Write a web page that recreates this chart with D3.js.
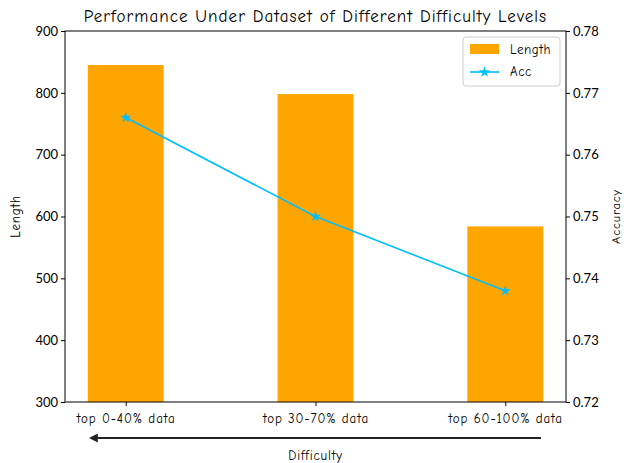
<!DOCTYPE html>
<html><head><meta charset="utf-8">
<script src="https://cdn.jsdelivr.net/npm/d3@7"></script>
<style>body{margin:0;background:#fff}svg{display:block}</style>
</head><body><div id="chart"></div>
<script>
const categories = ["top 0-40% data", "top 30-70% data", "top 60-100% data"];
const lengthValues = [845, 798, 584];
const accValues = [0.766, 0.750, 0.738];
const lengthTicks = [300, 400, 500, 600, 700, 800, 900];
const accTicks = [0.72, 0.73, 0.74, 0.75, 0.76, 0.77, 0.78];

const W = 624, H = 463;
const m = {left: 65, right: 58, top: 31, bottom: 61};
const iw = W - m.left - m.right, ih = H - m.top - m.bottom;
const comic = "'Comic Sans MS','Comic Neue','Lato',sans-serif";
const tickFont = "'Lato','Inter',sans-serif";

const svg = d3.select("#chart").append("svg").attr("width", W).attr("height", H);
const g = svg.append("g").attr("transform", `translate(${m.left},${m.top})`);

const x = d3.scaleLinear().domain([-0.32, 2.32]).range([0, iw]);
const yL = d3.scaleLinear().domain([300, 900]).range([ih, 0]);
const yA = d3.scaleLinear().domain([0.72, 0.78]).range([ih, 0]);
const bw = 0.4;

g.selectAll("rect.bar").data(lengthValues).join("rect").attr("class", "bar")
  .attr("x", (d, i) => x(i - bw / 2)).attr("width", x(bw) - x(0))
  .attr("y", d => yL(d)).attr("height", d => ih - yL(d)).attr("fill", "#FFA500");

const line = d3.line().x((d, i) => x(i)).y(d => yA(d));
g.append("path").datum(accValues).attr("d", line).attr("fill", "none")
  .attr("stroke", "#00BFFF").attr("stroke-width", 1.6);
const star = d3.symbol().type(d3.symbolStar).size(38);
g.selectAll("path.pt").data(accValues).join("path").attr("class", "pt")
  .attr("d", star).attr("transform", (d, i) => `translate(${x(i)},${yA(d)})`)
  .attr("fill", "#00BFFF");

// axes
const ax = g.append("g").attr("transform", `translate(0,${ih})`)
  .call(d3.axisBottom(x).tickValues([0, 1, 2]).tickFormat(i => categories[i]).tickSize(4).tickSizeOuter(0));
ax.selectAll("text").attr("font-family", comic).attr("font-size", 13).attr("letter-spacing", 0.9)
  .attr("fill", "#000").attr("dy", "1.05em");
const al = g.append("g").call(d3.axisLeft(yL).tickValues(lengthTicks).tickSize(4).tickSizeOuter(0));
al.selectAll("text").attr("font-family", tickFont).attr("font-size", 13).attr("fill", "#000");
const ar = g.append("g").attr("transform", `translate(${iw},0)`)
  .call(d3.axisRight(yA).tickValues(accTicks).tickFormat(d3.format(".2f")).tickSize(4).tickSizeOuter(0));
ar.selectAll("text").attr("font-family", tickFont).attr("font-size", 13).attr("fill", "#000");
g.selectAll(".domain").remove();
g.selectAll(".tick line").attr("stroke", "#000");
g.append("rect").attr("width", iw).attr("height", ih).attr("fill", "none").attr("stroke", "#000").attr("stroke-width", 1);

// title and labels
svg.append("text").attr("x", m.left + iw / 2).attr("y", 22).attr("text-anchor", "middle")
  .attr("font-family", comic).attr("font-size", 17).attr("letter-spacing", 1.05)
  .text("Performance Under Dataset of Different Difficulty Levels");
svg.append("text").attr("transform", `translate(20,${m.top + ih / 2}) rotate(-90)`).attr("text-anchor", "middle")
  .attr("font-family", comic).attr("font-size", 13).attr("letter-spacing", 0.8).text("Length");
svg.append("text").attr("transform", `translate(620,${m.top + ih / 2}) rotate(-90)`).attr("text-anchor", "middle")
  .attr("font-family", comic).attr("font-size", 12.5).attr("letter-spacing", 0.8).text("Accuracy");
svg.append("text").attr("x", m.left + iw / 2).attr("y", 460).attr("text-anchor", "middle")
  .attr("font-family", comic).attr("font-size", 13).attr("letter-spacing", 0.8).text("Difficulty");

// arrow
svg.append("defs").append("marker").attr("id", "ah").attr("viewBox", "0 0 10 10").attr("refX", 2).attr("refY", 5)
  .attr("markerWidth", 4.5).attr("markerHeight", 4.5).attr("orient", "auto")
  .append("path").attr("d", "M0,0 L10,5 L0,10 z").attr("fill", "#222");
svg.append("line").attr("x1", 541).attr("y1", 438).attr("x2", 96).attr("y2", 438)
  .attr("stroke", "#222").attr("stroke-width", 2).attr("marker-end", "url(#ah)");

// legend
const lg = svg.append("g").attr("transform", "translate(463,37)");
lg.append("rect").attr("width", 97).attr("height", 49).attr("rx", 3).attr("fill", "#fff")
  .attr("stroke", "#ccc").attr("stroke-width", 1);
lg.append("rect").attr("x", 7).attr("y", 7).attr("width", 29).attr("height", 10).attr("fill", "#FFA500");
lg.append("text").attr("x", 47).attr("y", 17).attr("font-family", comic).attr("font-size", 13).attr("letter-spacing", 0.6).text("Length");
lg.append("line").attr("x1", 7).attr("x2", 36).attr("y1", 35).attr("y2", 35).attr("stroke", "#00BFFF").attr("stroke-width", 1.6);
lg.append("path").attr("d", star).attr("transform", "translate(21.5,35)").attr("fill", "#00BFFF");
lg.append("text").attr("x", 47).attr("y", 39).attr("font-family", comic).attr("font-size", 13).attr("letter-spacing", 0.6).text("Acc");
</script></body></html>
